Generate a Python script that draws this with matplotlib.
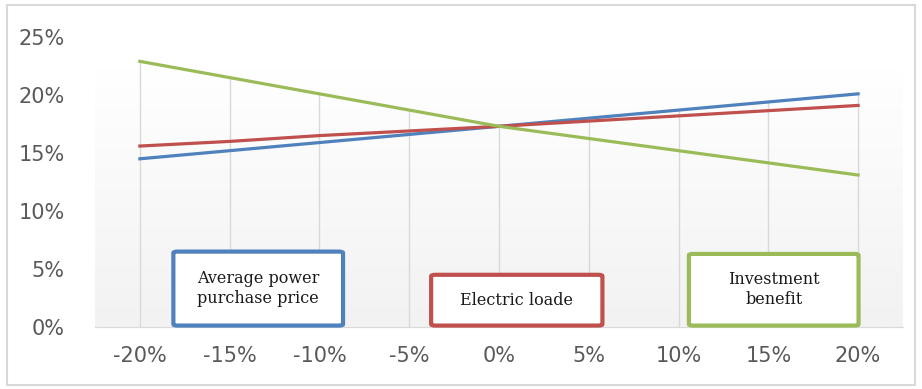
import numpy as np
import matplotlib.pyplot as plt
from matplotlib.patches import FancyBboxPatch, Rectangle

# sensitivity of the return to each factor
changes = ['-20%', '-15%', '-10%', '-5%', '0%', '5%', '10%', '15%', '20%']
price = [14.5, 15.2, 15.9, 16.6, 17.3, 18.0, 18.7, 19.4, 20.1]
load = [15.6, 16.0, 16.5, 16.9, 17.3, 17.75, 18.2, 18.65, 19.1]
benefit = [22.9, 21.5, 20.1, 18.7, 17.3, 16.25, 15.2, 14.15, 13.1]
yticks = [0, 5, 10, 15, 20, 25]

blue = '#4f81bd'
red = '#c0504d'
green = '#9bbb59'
grey = '#595959'

fig = plt.figure(figsize=(9.22, 3.89), dpi=100)
fig.patches.append(Rectangle((7 / 922, 4 / 389), 908 / 922, 380 / 389,
                             transform=fig.transFigure, fill=False,
                             edgecolor='#d9d9d9', linewidth=1.5))

ax = fig.add_axes([95 / 922, 62 / 389, 808 / 922, 290 / 389])
x = np.arange(len(changes))
ax.set_xlim(-0.5, len(changes) - 0.5)
ax.set_ylim(0, 25)

# soft white-to-grey fill behind the plot
grad = np.linspace(1.0, 0.0, 256).reshape(-1, 1)
ax.imshow(grad, extent=[-0.5, len(changes) - 0.5, 0, 22.3], aspect='auto',
          cmap=plt.matplotlib.colors.LinearSegmentedColormap.from_list(
              'bg', ['#f2f2f2', '#ffffff']), vmin=0, vmax=1, zorder=0)

# drop lines from the highest series down to the axis
top = np.max([price, load, benefit], axis=0)
ax.vlines(x, 0, top, color='#d9d9d9', linewidth=1, zorder=1)

ax.plot(x, price, color=blue, linewidth=2.3, zorder=3)
ax.plot(x, load, color=red, linewidth=2.3, zorder=3)
ax.plot(x, benefit, color=green, linewidth=2.3, zorder=3)

ax.set_xticks(x)
ax.set_xticklabels(changes)
ax.set_yticks(yticks)
ax.set_yticklabels([f'{v}%' for v in yticks])
ax.tick_params(length=0, labelsize=15, labelcolor=grey)
ax.tick_params(axis='x', pad=14)
ax.tick_params(axis='y', pad=22)
for side in ['top', 'right', 'left']:
    ax.spines[side].set_visible(False)
ax.spines['bottom'].set_color('#d9d9d9')

# labels for the three lines
boxes = [
    ('Average power\npurchase price', blue, 0.097, 0.005, 0.210, 0.255),
    ('Electric loade', red, 0.416, 0.005, 0.212, 0.175),
    ('Investment\nbenefit', green, 0.735, 0.005, 0.210, 0.247),
]
for text, color, bx, by, bw, bh in boxes:
    ax.add_patch(FancyBboxPatch((bx, by), bw, bh, transform=ax.transAxes,
                                boxstyle='round,pad=0,rounding_size=0.005',
                                facecolor='white', edgecolor=color,
                                linewidth=3, zorder=4, clip_on=False))
    ax.text(bx + bw / 2, by + bh / 2, text, transform=ax.transAxes,
            ha='center', va='center', fontsize=11.5, family='DejaVu Serif',
            color='#1a1a1a', linespacing=1.25, zorder=5)

fig.savefig('out.png', dpi=100)
